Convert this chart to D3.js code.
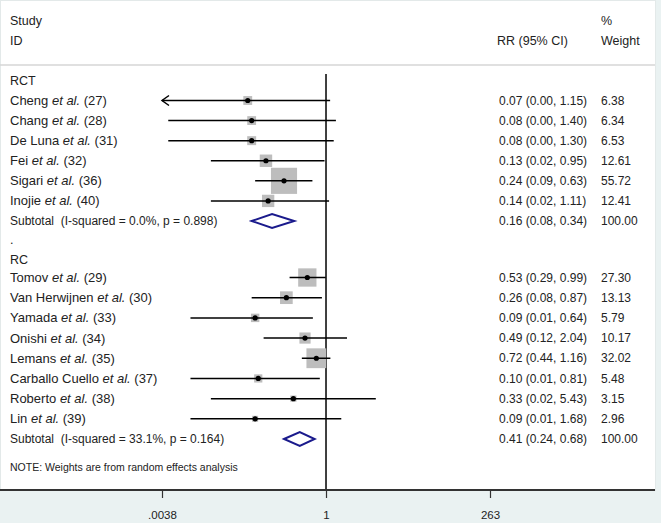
<!DOCTYPE html>
<html>
<head>
<meta charset="utf-8">
<script src="https://cdn.jsdelivr.net/npm/d3@7"></script>
<style>
  body { margin: 0; background: #eaf2f2; }
  svg { display: block; font-family: "Liberation Sans", Arial, sans-serif; }
  text { white-space: pre; }
</style>
</head>
<body>
<svg id="chart" width="661" height="523"></svg>
<script>
// RCT group
const rctStudies = ["Cheng", "Chang", "De Luna", "Fei", "Sigari", "Inojie"];
const rctRefs = [27, 28, 31, 32, 36, 40];
const rctRR = [0.07, 0.08, 0.08, 0.13, 0.24, 0.14];
const rctLow = [0.002, 0.0047, 0.0047, 0.02, 0.09, 0.02];
const rctHigh = [1.15, 1.40, 1.30, 0.95, 0.63, 1.11];
const rctWeight = [6.38, 6.34, 6.53, 12.61, 55.72, 12.41];
const rctSubtotal = [0.16, 0.08, 0.34];
const rctHet = "Subtotal  (I-squared = 0.0%, p = 0.898)";

// RC group
const rcStudies = ["Tomov", "Van Herwijnen", "Yamada", "Onishi", "Lemans", "Carballo Cuello", "Roberto", "Lin"];
const rcRefs = [29, 30, 33, 34, 35, 37, 38, 39];
const rcRR = [0.53, 0.26, 0.09, 0.49, 0.72, 0.10, 0.33, 0.09];
const rcLow = [0.29, 0.08, 0.01, 0.12, 0.44, 0.01, 0.02, 0.01];
const rcHigh = [0.99, 0.87, 0.64, 2.04, 1.16, 0.81, 5.43, 1.68];
const rcWeight = [27.30, 13.13, 5.79, 10.17, 32.02, 5.48, 3.15, 2.96];
const rcSubtotal = [0.41, 0.24, 0.68];
const rcHet = "Subtotal  (I-squared = 33.1%, p = 0.164)";

const axisTicks = [0.0038, 1, 263];
const axisTickLabels = [".0038", "1", "263"];

const svg = d3.select("#chart");
const f2 = d3.format(".2f");

// white panel
svg.append("rect").attr("x", 0.5).attr("y", 0.5).attr("width", 655).attr("height", 490)
  .attr("fill", "#fff").attr("stroke", "#e3e9e9");

const x = d3.scaleLog().domain([0.0038, 263]).range([162, 490]);
// row index -> vertical position
const y = d3.scaleLinear().domain([0, 1, 7, 8, 9, 10, 18]).range([81, 100.5, 221, 240, 260, 277.5, 439]);

// build rows
const rows = [];
rows.push({ type: "head", label: "RCT", r: 0 });
rctStudies.forEach((s, i) => rows.push({ type: "study", name: s, ref: rctRefs[i], rr: rctRR[i], lo: rctLow[i], hi: rctHigh[i], w: rctWeight[i], r: i + 1 }));
rows.push({ type: "sub", label: rctHet, rr: rctSubtotal[0], lo: rctSubtotal[1], hi: rctSubtotal[2], r: 7 });
rows.push({ type: "dot", label: ".", r: 8 });
rows.push({ type: "head", label: "RC", r: 9 });
rcStudies.forEach((s, i) => rows.push({ type: "study", name: s, ref: rcRefs[i], rr: rcRR[i], lo: rcLow[i], hi: rcHigh[i], w: rcWeight[i], r: i + 10 }));
rows.push({ type: "sub", label: rcHet, rr: rcSubtotal[0], lo: rcSubtotal[1], hi: rcSubtotal[2], r: 18 });

// header
const hdr = svg.append("g").attr("font-size", 12.5).attr("fill", "#222");
hdr.append("text").attr("x", 10).attr("y", 25).text("Study");
hdr.append("text").attr("x", 10).attr("y", 45).text("ID");
hdr.append("text").attr("x", 497).attr("y", 45).text("RR (95% CI)");
hdr.append("text").attr("x", 601).attr("y", 25).text("%");
hdr.append("text").attr("x", 601).attr("y", 45).text("Weight");
svg.append("line").attr("x1", 0).attr("x2", 655).attr("y1", 65).attr("y2", 65)
  .attr("stroke", "#d6d6d6").attr("stroke-width", 1.5);

// reference line at 1
svg.append("line").attr("x1", x(1)).attr("x2", x(1)).attr("y1", 74).attr("y2", 490)
  .attr("stroke", "#000").attr("stroke-width", 1.5);

const boxK = 3.5;
const g = svg.append("g");

rows.forEach(d => {
  const cy = y(d.r);
  const t = g.append("text").attr("x", 10).attr("y", cy).attr("dy", "0.35em")
    .attr("font-size", 12.5).attr("fill", "#222");
  if (d.type === "study") {
    t.attr("font-size", 13);
    t.append("tspan").text(d.name + " ");
    t.append("tspan").attr("font-style", "italic").text("et al.");
    t.append("tspan").text(" (" + d.ref + ")");

    const side = boxK * Math.sqrt(d.w);
    g.append("rect").attr("x", x(d.rr) - side / 2).attr("y", cy - side / 2)
      .attr("width", side).attr("height", side).attr("fill", "#bdbdbd");
    const lo = Math.max(d.lo, x.domain()[0]);
    g.append("line").attr("x1", x(lo)).attr("x2", x(d.hi)).attr("y1", cy).attr("y2", cy)
      .attr("stroke", "#000").attr("stroke-width", 1.5);
    if (d.lo < x.domain()[0]) {
      g.append("path").attr("d", `M${x(lo) + 7},${cy - 5}L${x(lo)},${cy}L${x(lo) + 7},${cy + 5}`)
        .attr("fill", "none").attr("stroke", "#000").attr("stroke-width", 1.5);
    }
    g.append("circle").attr("cx", x(d.rr)).attr("cy", cy).attr("r", 2.6).attr("fill", "#000");
    g.append("text").attr("x", 499).attr("y", cy).attr("dy", "0.35em").attr("font-size", 12).attr("fill", "#222")
      .text(`${f2(d.rr)} (${f2(d.lo)}, ${f2(d.hi)})`);
    g.append("text").attr("x", 601).attr("y", cy).attr("dy", "0.35em").attr("font-size", 12).attr("fill", "#222")
      .text(f2(d.w));
  } else if (d.type === "sub") {
    t.attr("font-size", 12).text(d.label);
    const h = 7;
    g.append("path")
      .attr("d", `M${x(d.lo)},${cy}L${x(d.rr)},${cy - h}L${x(d.hi)},${cy}L${x(d.rr)},${cy + h}Z`)
      .attr("fill", "none").attr("stroke", "#1a1a8c").attr("stroke-width", 2);
    g.append("text").attr("x", 499).attr("y", cy).attr("dy", "0.35em").attr("font-size", 12).attr("fill", "#222")
      .text(`${f2(d.rr)} (${f2(d.lo)}, ${f2(d.hi)})`);
    g.append("text").attr("x", 601).attr("y", cy).attr("dy", "0.35em").attr("font-size", 12).attr("fill", "#222")
      .text("100.00");
  } else {
    t.text(d.label);
  }
});

svg.append("text").attr("x", 10).attr("y", 471).attr("font-size", 10.5).attr("fill", "#222")
  .text("NOTE: Weights are from random effects analysis");

// x axis
const axis = svg.append("g").attr("transform", "translate(0,490)")
  .call(d3.axisBottom(x).tickValues(axisTicks).tickFormat((v, i) => axisTickLabels[i]).tickSizeOuter(0).tickSize(8));
axis.select(".domain").remove();
axis.selectAll(".tick line").attr("stroke", "#333").attr("stroke-width", 1.2);
axis.selectAll(".tick text").attr("font-size", 11.5).attr("fill", "#222").attr("dy", "1.55em")
  .attr("font-family", "Liberation Sans, Arial, sans-serif");
svg.append("line").attr("x1", 0).attr("x2", 655).attr("y1", 490).attr("y2", 490)
  .attr("stroke", "#333").attr("stroke-width", 2);
</script>
</body>
</html>
